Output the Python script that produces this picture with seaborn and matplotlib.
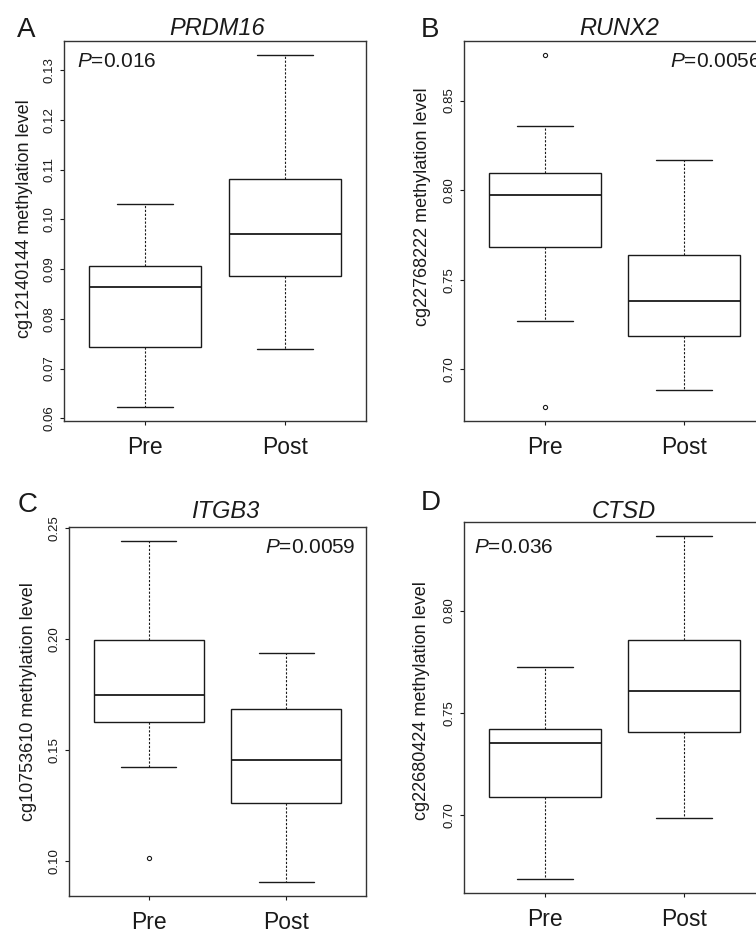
import numpy as np
import pandas as pd
import matplotlib.pyplot as plt
import seaborn as sns
from matplotlib.ticker import MultipleLocator, FormatStrFormatter

# Panel info
letters = ['A', 'B', 'C', 'D']
genes = ['PRDM16', 'RUNX2', 'ITGB3', 'CTSD']
probes = ['cg12140144', 'cg22768222', 'cg10753610', 'cg22680424']
p_values = ['0.016', '0.0056', '0.0059', '0.036']
groups = ['Pre', 'Post']

# Box stats: lower whisker, Q1, median, Q3, upper whisker
prdm16_pre = [0.0623, 0.0743, 0.0863, 0.0906, 0.1030]
prdm16_post = [0.0739, 0.0887, 0.0971, 0.1081, 0.1330]
runx2_pre = [0.7268, 0.7684, 0.7972, 0.8096, 0.8360]
runx2_post = [0.6884, 0.7185, 0.7383, 0.7638, 0.8170]
itgb3_pre = [0.1423, 0.1627, 0.1746, 0.1998, 0.2444]
itgb3_post = [0.0903, 0.1262, 0.1454, 0.1683, 0.1936]
ctsd_pre = [0.6685, 0.7089, 0.7352, 0.7422, 0.7725]
ctsd_post = [0.6985, 0.7407, 0.7607, 0.7858, 0.8366]

# Outlying points
runx2_pre_out = [0.6791, 0.8754]
itgb3_pre_out = [0.1014]

tick_steps = [0.01, 0.05, 0.05, 0.05]


def make_sample(stats, outliers=()):
    # sample that reproduces the five-number summary (quartiles land inside the blocks)
    lo, q1, med, q3, hi = stats
    return [lo] + [q1] * 20 + [med] * 20 + [q3] * 20 + [hi] + list(outliers)


def make_frame(pre, post, pre_out=(), post_out=()):
    a = make_sample(pre, pre_out)
    b = make_sample(post, post_out)
    return pd.DataFrame({'group': ['Pre'] * len(a) + ['Post'] * len(b),
                         'value': a + b})


frames = [
    make_frame(prdm16_pre, prdm16_post),
    make_frame(runx2_pre, runx2_post, pre_out=runx2_pre_out),
    make_frame(itgb3_pre, itgb3_post, pre_out=itgb3_pre_out),
    make_frame(ctsd_pre, ctsd_post),
]

sns.set_theme(style='ticks')
plt.rcParams['font.family'] = ['Liberation Sans', 'DejaVu Sans']
plt.rcParams['mathtext.fontset'] = 'custom'
plt.rcParams['mathtext.it'] = 'Liberation Sans:italic'
plt.rcParams['mathtext.rm'] = 'Liberation Sans'

W, H = 756, 935
fig = plt.figure(figsize=(W / 100, H / 100), dpi=100)

# layout in pixels: axes (left, top, right, bottom)
ax_px = [(64, 41, 366, 421), (464, 41, 765, 421),
         (69, 527, 366, 896), (464, 522, 765, 893)]
letter_px = [(17, 36.7), (421, 36.7), (18, 511.7), (421, 510)]
title_px = [(217, 35), (619.7, 35), (225, 518.3), (623.7, 518.3)]
ptext_px = [(77, 66.7, 'left'), (669.7, 66.7, 'left'),
            (356, 553.3, 'right'), (474.4, 553.3, 'left')]
ylab_px = [(33, 218.5), (431, 206.7), (37, 701.5), (430, 701)]

ink = '#1a1a1a'

for i, df in enumerate(frames):
    l, t, r, b = ax_px[i]
    ax = fig.add_axes([l / W, 1 - b / H, (r - l) / W, (b - t) / H])
    sns.boxplot(data=df, x='group', y='value', order=groups, ax=ax,
                color='white', linecolor=ink, linewidth=1.0, width=0.8, whis=1.5,
                whiskerprops=dict(linestyle=(0, (2, 1.5)), linewidth=0.8),
                medianprops=dict(linewidth=1.3),
                flierprops=dict(marker='o', markersize=3, markerfacecolor='none',
                                markeredgecolor=ink, markeredgewidth=0.8))
    vals = df['value']
    rng = vals.max() - vals.min()
    ax.set_ylim(vals.min() - 0.04 * rng, vals.max() + 0.04 * rng)
    ax.set_xlim(-0.58, 1.58)
    ax.yaxis.set_major_locator(MultipleLocator(tick_steps[i]))
    ax.yaxis.set_major_formatter(FormatStrFormatter('%.2f'))
    ax.tick_params(axis='y', labelsize=9.5, rotation=90, length=3, width=0.8,
                   pad=3, color=ink, labelcolor=ink)
    ax.tick_params(axis='x', labelsize=16.5, length=3, width=0.8, pad=8, color=ink,
                   labelcolor=ink)
    for lab in ax.get_yticklabels():
        lab.set_va('center')
    for sp in ax.spines.values():
        sp.set_visible(True)
        sp.set_color('#333333')
        sp.set_linewidth(1.0)
    ax.set_xlabel('')
    ax.set_ylabel(probes[i] + ' methylation level', fontsize=13, color=ink)
    yx, yy = ylab_px[i]
    ax.yaxis.set_label_coords((yx - l) / (r - l), (b - yy) / (b - t))

    lx, ly = letter_px[i]
    fig.text(lx / W, 1 - ly / H, letters[i], fontsize=20, ha='left', va='baseline',
             color=ink)
    tx, ty = title_px[i]
    fig.text(tx / W, 1 - ty / H, genes[i], fontsize=17, fontstyle='italic',
             ha='center', va='baseline', color=ink)
    px, py, pha = ptext_px[i]
    fig.text(px / W, 1 - py / H, r'$\mathit{P}$=' + p_values[i], fontsize=15,
             ha=pha, va='baseline', color=ink)

fig.savefig('out.png', dpi=100)
